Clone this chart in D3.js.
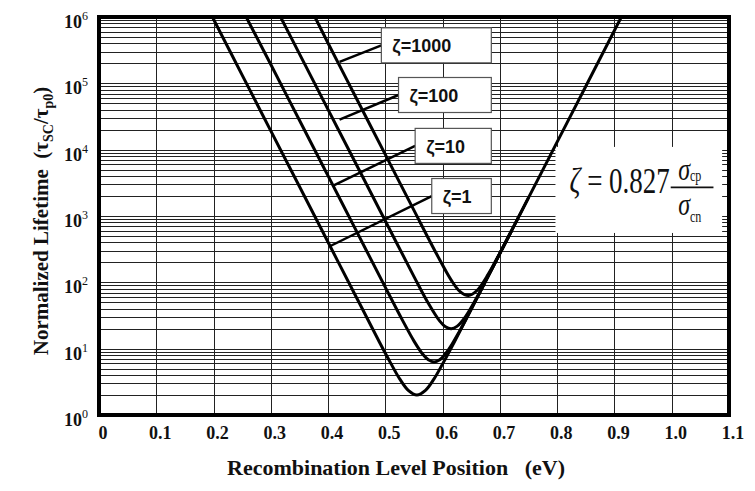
<!DOCTYPE html>
<html lang="en">
<head>
<meta charset="utf-8">
<title>Normalized Lifetime vs Recombination Level Position</title>
<script src="https://d3js.org/d3.v7.min.js"></script>
<style>
    body { margin: 0; background: #fff; }
    .grid line { stroke: #222; stroke-width: 1px; shape-rendering: crispEdges; }
    .curve { fill: none; stroke: #000; stroke-width: 3px; stroke-linejoin: round; }
    .tick-label { font-family: "Liberation Serif", "Times New Roman", serif; font-weight: bold; font-size: 18px; fill: #111; }
    .axis-title { font-family: "Liberation Serif", "Times New Roman", serif; font-weight: bold; font-size: 22px; fill: #111; white-space: pre; }
    .zlabel { font-family: "Liberation Sans", Arial, sans-serif; font-weight: bold; font-size: 18px; fill: #111; }
    .formula { font-family: "Liberation Serif", "Times New Roman", serif; fill: #111; }
</style>
</head>
<body>
<div id="chart"></div>
<script>

// x axis: recombination level position (eV)
var energyTicks = [0, 0.1, 0.2, 0.3, 0.4, 0.5, 0.6, 0.7, 0.8, 0.9, 1.0, 1.1];
var energyLabels = ["0", "0.1", "0.2", "0.3", "0.4", "0.5", "0.6", "0.7", "0.8", "0.9", "1.0", "1.1"];

// y axis: decades of normalized lifetime
var decadeTicks = [1, 10, 100, 1000, 10000, 100000, 1000000];
var decadeExponents = ["0", "1", "2", "3", "4", "5", "6"];
var minorSteps = [2, 3, 4, 5, 6, 7, 8, 9];

// curves: [energy (eV), tau_SC / tau_p0]
var zeta1 = [[0.198, 1.0e6], [0.25, 1.33e5], [0.30, 1.92e4], [0.35, 2780], [0.40, 402], [0.45, 58.1],
    [0.49, 12.4], [0.51, 5.9], [0.525, 3.5], [0.54, 2.35], [0.555, 2.0], [0.57, 2.35], [0.585, 3.5],
    [0.60, 5.9], [0.62, 12.4], [0.66, 58], [0.70, 273], [0.75, 1890], [0.80, 13100], [0.85, 90300], [0.912, 1.0e6]];
var zeta10 = [[0.257, 1.0e6], [0.30, 1.92e5], [0.35, 27800], [0.40, 4020], [0.45, 581], [0.50, 84],
    [0.53, 26.7], [0.55, 13.0], [0.565, 8.3], [0.575, 6.8], [0.585, 6.3], [0.595, 6.8], [0.61, 9.6],
    [0.63, 18.7], [0.66, 58.3], [0.70, 273], [0.72, 592]];
var zeta100 = [[0.317, 1.0e6], [0.35, 2.78e5], [0.40, 40200], [0.45, 5810], [0.50, 841], [0.55, 122],
    [0.575, 48.3], [0.595, 26.0], [0.605, 21.4], [0.615, 20.0], [0.625, 21.7], [0.64, 30.5],
    [0.66, 59.8], [0.69, 186], [0.72, 592]];
var zeta1000 = [[0.377, 1.0e6], [0.40, 4.02e5], [0.45, 58100], [0.50, 8410], [0.55, 1213], [0.59, 262],
    [0.615, 108], [0.63, 73.2], [0.645, 63.3], [0.66, 75.3], [0.68, 134], [0.70, 277], [0.73, 872], [0.75, 1890]];

// labels: text, box left edge (eV), box centre (lifetime), leader end [eV, lifetime]
var zetaNames = ["\u03b6=1000", "\u03b6=100", "\u03b6=10", "\u03b6=1"];
var zetaBoxLeft = [0.493, 0.523, 0.552, 0.581];
var zetaBoxMid = [3.74e5, 6.67e4, 1.14e4, 2.0e3];
var zetaLeaderEnd = [[0.420, 2.1e5], [0.420, 2.83e4], [0.409, 2.86e3], [0.404, 353]];
var zetaBoxRight = 0.685;

// set the dimensions and margins of the graph
var margin = {top: 17, right: 26, bottom: 76, left: 99},
    width = 755 - margin.left - margin.right,
    height = 491 - margin.top - margin.bottom;

var svg = d3.select("#chart")
  .append("svg")
    .attr("width", 755)
    .attr("height", 491)
  .append("g")
    .attr("transform", "translate(" + margin.left + "," + margin.top + ")");

var x = d3.scaleLinear()
    .domain([0, 1.1])
    .range([0, width]);

var y = d3.scaleLog()
    .domain([1, 1e6])
    .range([height, 0]);

// horizontal grid: every 2..9 of each decade plus the decade itself
var hValues = [];
decadeTicks.forEach(function(d) {
    if (d > 1 && d < 1e6) hValues.push(d);
    if (d < 1e6) minorSteps.forEach(function(m) { hValues.push(d * m); });
});

var grid = svg.append("g").attr("class", "grid");
grid.selectAll(".h")
    .data(hValues)
    .enter().append("line")
    .attr("x1", 0).attr("x2", width)
    .attr("y1", function(d) { return Math.round(y(d)) + 0.5; })
    .attr("y2", function(d) { return Math.round(y(d)) + 0.5; });

grid.selectAll(".v")
    .data(energyTicks.slice(1, -1))
    .enter().append("line")
    .attr("y1", 0).attr("y2", height)
    .attr("x1", function(d) { return Math.round(x(d)) + 0.5; })
    .attr("x2", function(d) { return Math.round(x(d)) + 0.5; });

// white box behind the formula
var fBox = {e0: 0.797, e1: 1.088, top: 1.1e4, bottom: 555};
svg.append("rect")
    .attr("x", x(fBox.e0))
    .attr("y", y(fBox.top))
    .attr("width", x(fBox.e1) - x(fBox.e0))
    .attr("height", y(fBox.bottom) - y(fBox.top))
    .style("fill", "#fff");

// clip for curves
svg.append("clipPath").attr("id", "plotclip")
  .append("rect").attr("x", 0).attr("y", 0).attr("width", width).attr("height", height);

var line = d3.line()
    .x(function(d) { return x(d[0]); })
    .y(function(d) { return y(d[1]); })
    .curve(d3.curveCatmullRom.alpha(0.5));

svg.append("g")
    .attr("clip-path", "url(#plotclip)")
    .selectAll("path")
    .data([zeta1, zeta10, zeta100, zeta1000])
    .enter().append("path")
    .attr("class", "curve")
    .attr("d", line);

// leader lines and label boxes
var labels = zetaNames.map(function(n, i) {
    return {name: n, left: zetaBoxLeft[i], mid: zetaBoxMid[i], end: zetaLeaderEnd[i]};
});

svg.selectAll(".leader")
    .data(labels)
    .enter().append("line")
    .attr("x1", function(d) { return x(d.left); })
    .attr("y1", function(d) { return y(d.mid); })
    .attr("x2", function(d) { return x(d.end[0]); })
    .attr("y2", function(d) { return y(d.end[1]); })
    .style("stroke", "#000")
    .style("stroke-width", 2.5);

var boxH = 35;
svg.selectAll(".zbox")
    .data(labels)
    .enter().append("rect")
    .attr("x", function(d) { return x(d.left); })
    .attr("y", function(d) { return y(d.mid) - boxH / 2; })
    .attr("width", function(d) { return x(zetaBoxRight) - x(d.left); })
    .attr("height", boxH)
    .style("fill", "#fff")
    .style("stroke", "#555")
    .style("stroke-width", 1.2);

svg.selectAll(".zlabel")
    .data(labels)
    .enter().append("text")
    .attr("class", "zlabel")
    .attr("x", function(d) { return x(d.left) + 11; })
    .attr("y", function(d) { return y(d.mid) + 7; })
    .text(function(d) { return d.name; });

// formula  zeta = 0.827 sigma_cp / sigma_cn  (tall, narrow lettering)
var fx = x(fBox.e0), fy = y(fBox.top);
var formula = svg.append("g")
    .attr("class", "formula")
    .attr("transform", "translate(" + (fx + 14) + "," + (fy + 46) + ") scale(0.75,1)");
formula.append("text")
    .attr("x", 0).attr("y", 0)
    .style("font-size", "36px")
    .html('<tspan font-style="italic">\u03b6</tspan> = 0.827');
formula.append("line")
    .attr("x1", 135).attr("x2", 192)
    .attr("y1", -5.5).attr("y2", -5.5)
    .style("stroke", "#111").style("stroke-width", 1.6);
formula.append("text")
    .attr("x", 145).attr("y", -13)
    .style("font-size", "32px")
    .html('<tspan font-style="italic">\u03c3</tspan><tspan font-size="16px" dy="1">cp</tspan>');
formula.append("text")
    .attr("x", 145).attr("y", 22)
    .style("font-size", "32px")
    .html('<tspan font-style="italic">\u03c3</tspan><tspan font-size="16px" dy="7">cn</tspan>');

// frame
svg.append("rect")
    .attr("x", 0).attr("y", 0)
    .attr("width", width).attr("height", height)
    .style("fill", "none")
    .style("stroke", "#000")
    .style("stroke-width", 4);

// x tick labels
svg.selectAll(".xlab")
    .data(energyTicks)
    .enter().append("text")
    .attr("class", "tick-label")
    .attr("x", function(d) { return x(d) + 4; })
    .attr("y", height + 24)
    .style("text-anchor", "middle")
    .text(function(d, i) { return energyLabels[i]; });

// y tick labels 10^n
var ylab = svg.selectAll(".ylab")
    .data(decadeTicks)
    .enter().append("text")
    .attr("class", "tick-label")
    .attr("x", -11)
    .attr("y", function(d) { return y(d) + 11; })
    .style("text-anchor", "end");
ylab.append("tspan").text("10");
ylab.append("tspan")
    .attr("dy", -8)
    .style("font-size", "12px")
    .style("font-weight", "normal")
    .text(function(d, i) { return decadeExponents[i]; });

// axis titles
svg.append("text")
    .attr("class", "axis-title")
    .attr("x", 297)
    .attr("y", height + 60)
    .style("text-anchor", "middle")
    .text("Recombination Level Position   (eV)");

var yTitle = svg.append("text")
    .attr("class", "axis-title")
    .attr("transform", "rotate(-90)")
    .attr("x", -(221 - margin.top))
    .attr("y", 48 - margin.left)
    .style("font-size", "21px")
    .style("text-anchor", "middle");
yTitle.append("tspan").text("Normalized Lifetime  (\u03c4");
yTitle.append("tspan").attr("dy", 5).style("font-size", "14px").text("SC");
yTitle.append("tspan").attr("dy", -5).text("/\u03c4");
yTitle.append("tspan").attr("dy", 5).style("font-size", "14px").text("p0");
yTitle.append("tspan").attr("dy", -5).text(")");

</script>
</body>
</html>
